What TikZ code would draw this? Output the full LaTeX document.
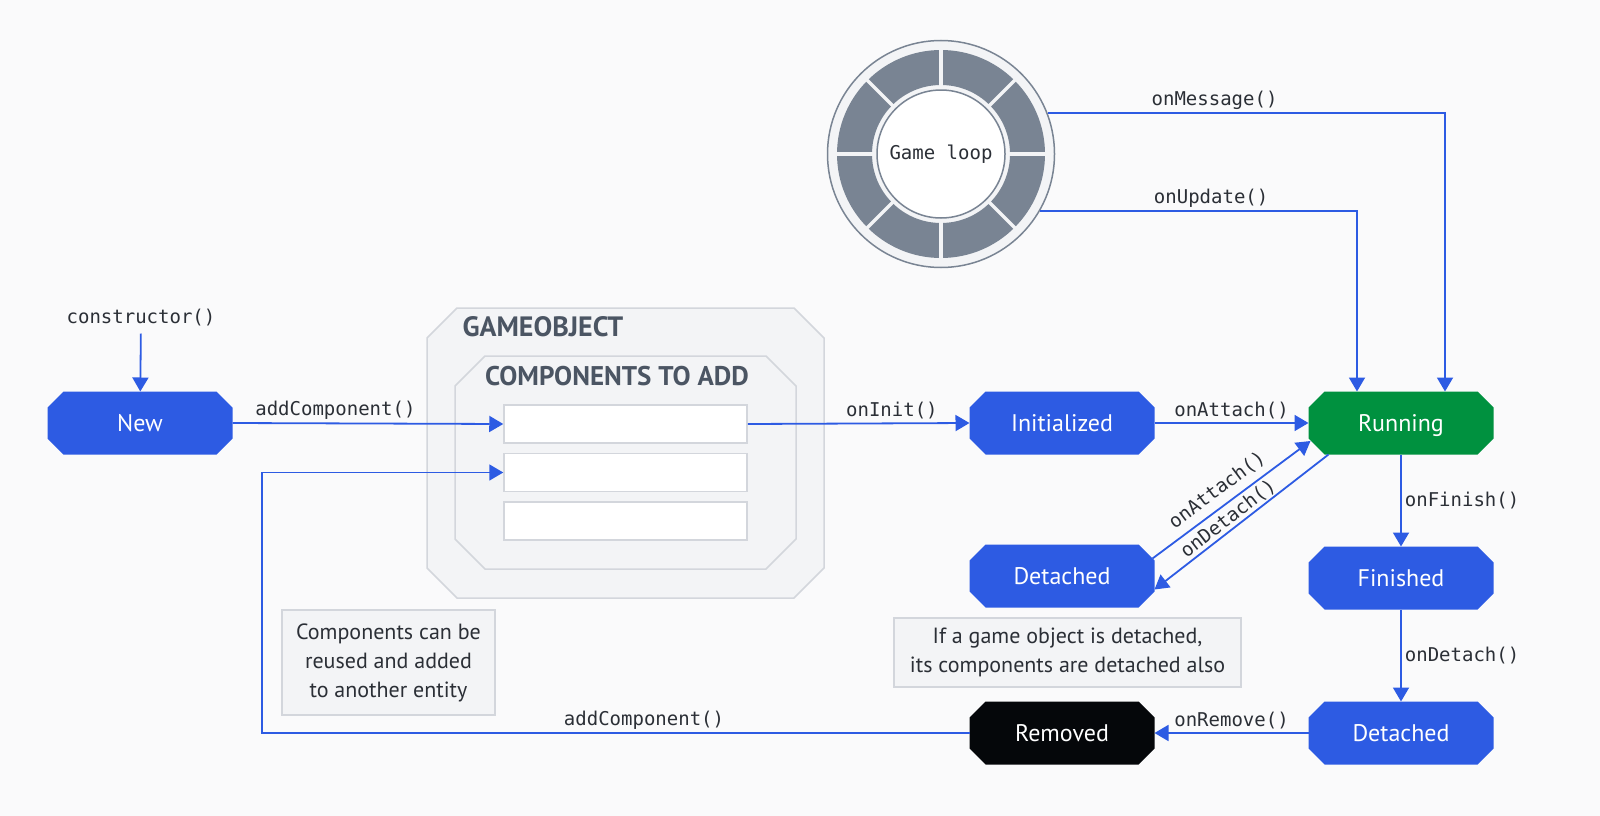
\documentclass[tikz,border=0pt]{standalone}
\usepackage{fontspec}
\setmainfont{PT Sans}
\newfontfamily\codefont{DejaVu Sans Mono}
\usepackage{xcolor}
\usepackage{tikz}
\usetikzlibrary{arrows.meta,positioning}
\pgfdeclarelayer{back}
\pgfsetlayers{back,main}

\definecolor{stateblue}{HTML}{2D5BE3}
\definecolor{stategreen}{HTML}{00913F}
\definecolor{stateblack}{HTML}{05070A}
\definecolor{boxfill}{HTML}{F3F4F6}
\definecolor{boxline}{HTML}{D3D6DC}
\definecolor{titlegray}{HTML}{4B5563}
\definecolor{loopgray}{HTML}{798493}
\definecolor{bgcolor}{HTML}{FAFAFB}
\definecolor{codegray}{HTML}{2B2F36}

% octagon with cut corners round a named node
\newcommand{\chamferbox}[3]{%
    \path[#3] ([xshift=#2]#1.north west) -- ([xshift=-#2]#1.north east)
        -- ([yshift=-#2]#1.north east) -- ([yshift=#2]#1.south east)
        -- ([xshift=-#2]#1.south east) -- ([xshift=#2]#1.south west)
        -- ([yshift=#2]#1.south west) -- ([yshift=-#2]#1.north west) -- cycle;}

\tikzset{
  statebox/.style={rectangle, minimum width=185pt, minimum height=63pt, inner sep=0pt,
    outer sep=0pt, text height=17pt, text depth=0pt,
    text=white, font=\fontsize{24}{28}\selectfont},
  holder/.style={rectangle, inner sep=0pt, outer sep=0pt},
  slot/.style={rectangle, fill=white, draw=boxline, line width=1.5pt,
    minimum width=243pt, minimum height=38pt},
  note/.style={rectangle, fill=boxfill, draw=boxline, line width=1.5pt,
    align=center, text=codegray, font=\fontsize{22}{29}\selectfont},
  fnlabel/.style={font=\codefont\fontsize{19}{22}\selectfont, text=codegray, inner sep=3pt},
  flow/.style={draw=stateblue, line width=1.8pt, -{Triangle[length=14pt,width=16pt]}}
}

\begin{document}
\begin{tikzpicture}[x=1pt,y=-1pt]

    \useasboundingbox (0,0) rectangle (1600,816);

    % game loop wheel
    \node[circle, minimum size=227pt, draw=loopgray, fill=boxfill, line width=1.5pt] (loop) at (941,154) {};
    \fill[loopgray, even odd rule] (loop.center) circle[radius=104] circle[radius=69];
    \foreach \a in {0,45,...,315}
        \draw[boxfill, line width=3.5pt] (loop.center) ++(\a:66) -- ++(\a:41);
    \node[circle, minimum size=128pt, draw=loopgray, fill=white, line width=1.5pt,
        font=\codefont\fontsize{19}{22}\selectfont, text=codegray] (core) at (loop.center) {Game loop};

    % game object with its components
    \node[holder, minimum width=397pt, minimum height=290pt] (gameobj) at (625.5,453) {};
    \node[holder, minimum width=341pt, minimum height=213pt] (toadd) at (625.5,462.5) {};
    \node[anchor=west, text=titlegray, font=\bfseries\fontsize{28}{32}\selectfont] (gotitle) at (459,327) {GAMEOBJECT};
    \node[text=titlegray, font=\bfseries\fontsize{27}{32}\selectfont] (addtitle) at (617,376) {COMPONENTS TO ADD};
    \node[slot] (slot1) at (625.5,424) {};
    \node[slot] (slot2) at (625.5,472.5) {};
    \node[slot] (slot3) at (625.5,521) {};

    % states
    \node[statebox] (new) at (140,423) {New};
    \node[statebox] (init) at (1062,423) {Initialized};
    \node[statebox] (running) at (1401,423) {Running};
    \node[statebox] (detleft) at (1062,576) {Detached};
    \node[statebox] (finished) at (1401,578) {Finished};
    \node[statebox] (detright) at (1401,733) {Detached};
    \node[statebox] (removed) at (1062,733) {Removed};

    \begin{pgfonlayer}{back}
        \fill[bgcolor] (0,0) rectangle (1600,816);
        \chamferbox{gameobj}{30pt}{fill=boxfill, draw=boxline, line width=1.5pt}
        \chamferbox{toadd}{30pt}{fill=boxfill, draw=boxline, line width=1.5pt}
        \foreach \n/\c in {new/stateblue, init/stateblue, running/stategreen, detleft/stateblue,
                finished/stateblue, detright/stateblue, removed/stateblack}{
            \chamferbox{\n}{16pt}{fill=\c}
        }
    \end{pgfonlayer}

    % notes
    \node[note, minimum width=213pt, minimum height=105pt] (reuse) at (388.5,662.5)
        {Components can be\\reused and added\\to another entity};
    \node[note, minimum width=347pt, minimum height=69pt] (detnote) at (1067.5,652.5)
        {If a game object is detached,\\its components are detached also};

    \node[fnlabel] (ctor) at (141,318) {constructor()};
    \coordinate (back) at (262,0);

    % transitions
    \draw[flow, shorten <=4pt] (ctor) -- (new);
    \draw[flow] (new.east) -- node[fnlabel, above, pos=0.38] {addComponent()} (slot1.west);
    \draw[flow] (slot1.east) -- node[fnlabel, above, pos=0.65] {onInit()} (init.west);
    \draw[flow] (init.east) -- node[fnlabel, above] {onAttach()} (running.west);
    \draw[flow] (loop.21) -| node[fnlabel, above, pos=0.21] {onMessage()} ([xshift=44pt]running.north);
    \draw[flow] (loop.-30) -| node[fnlabel, above, pos=0.27] {onUpdate()} ([xshift=-44pt]running.north);
    \draw[flow] ([xshift=-2pt,yshift=-14pt]detleft.north east) -- node[fnlabel, above=5pt, sloped, pos=0.47, inner sep=2pt] {onAttach()} ([xshift=2pt,yshift=-18pt]running.west);
    \draw[flow] ([xshift=20pt]running.south west) -- node[fnlabel, above, sloped, pos=0.54, inner sep=1pt] {onDetach()} ([yshift=18pt]detleft.south east);
    \draw[flow] (running) -- node[fnlabel, right] {onFinish()} (finished);
    \draw[flow] (finished) -- node[fnlabel, right] {onDetach()} (detright);
    \draw[flow] (detright) -- node[fnlabel, above] {onRemove()} (removed);
    \draw[flow] (removed.west) -| node[fnlabel, above, pos=0.23] {addComponent()} (back |- slot2.west) -- (slot2.west);

\end{tikzpicture}
\end{document}
